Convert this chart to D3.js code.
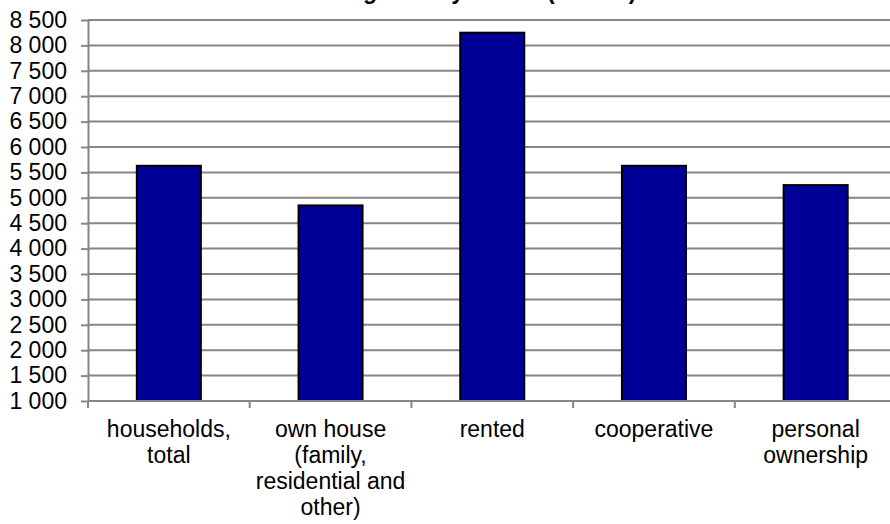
<!DOCTYPE html>
<html>
<head>
<meta charset="utf-8">
<script src="https://cdn.jsdelivr.net/npm/d3@7"></script>
<style>
  html, body { margin: 0; padding: 0; background: #fff; }
  svg { display: block; font-family: "Liberation Sans", Arial, sans-serif; }
</style>
</head>
<body>
<svg id="chart" width="890" height="524"></svg>
<script>
// ---- data ----
const categories = [
  ["households,", "total"],
  ["own house", "(family,", "residential and", "other)"],
  ["rented"],
  ["cooperative"],
  ["personal", "ownership"]
];
const values = [5630, 4850, 8250, 5630, 5250];
const yTicks = [1000, 1500, 2000, 2500, 3000, 3500, 4000, 4500, 5000, 5500, 6000, 6500, 7000, 7500, 8000, 8500];
const title = "Housing cost by tenure (in CZK)";

// ---- layout ----
const W = 890, H = 524;
const plotLeft = 88, plotRight = 896.5, plotTop = 20, plotBottom = 401;
const gridColor = "#868686";

const svg = d3.select("#chart");
const idx = categories.map((d, i) => i);

const x = d3.scaleBand().domain(idx).range([plotLeft, plotRight])
  .paddingInner(0.604).paddingOuter(0.302);
const y = d3.scaleLinear().domain([1000, 8500]).range([plotBottom, plotTop]);

const loc = d3.formatLocale({decimal: ".", thousands: " ", grouping: [3], currency: ["", ""]});
const fmt = loc.format(",");

// gridlines
svg.append("g").selectAll("line").data(yTicks.slice(1)).join("line")
  .attr("x1", plotLeft).attr("x2", W)
  .attr("y1", d => y(d)).attr("y2", d => y(d))
  .attr("stroke", gridColor).attr("stroke-width", 2);

// y axis
const yAxis = svg.append("g").attr("transform", `translate(${plotLeft},0)`)
  .call(d3.axisLeft(y).tickValues(yTicks).tickFormat(fmt).tickSize(7).tickPadding(14).tickSizeOuter(0));
yAxis.select(".domain").attr("stroke", gridColor).attr("stroke-width", 2);
yAxis.selectAll(".tick line").attr("stroke", gridColor).attr("stroke-width", 2);
yAxis.selectAll(".tick text").attr("font-size", 23).attr("fill", "#000")
  .attr("font-family", "'Liberation Sans', Arial, sans-serif");

// bars
svg.append("g").selectAll("rect").data(values).join("rect")
  .attr("x", (d, i) => x(i))
  .attr("width", x.bandwidth())
  .attr("y", d => y(d))
  .attr("height", d => y(1000) - y(d))
  .attr("fill", "#000099")
  .attr("stroke", "#000").attr("stroke-width", 2);

// x axis line
svg.append("line").attr("x1", plotLeft).attr("x2", W).attr("y1", plotBottom).attr("y2", plotBottom)
  .attr("stroke", gridColor).attr("stroke-width", 2);
// category boundary ticks
const bounds = d3.range(categories.length + 1).map(i => x.range()[0] + i * x.step());
svg.append("g").selectAll("line").data(bounds).join("line")
  .attr("x1", d => d).attr("x2", d => d)
  .attr("y1", plotBottom).attr("y2", plotBottom + 7)
  .attr("stroke", gridColor).attr("stroke-width", 2);

// category labels
const lab = svg.append("g").selectAll("text").data(categories).join("text")
  .attr("text-anchor", "middle").attr("font-size", 23).attr("fill", "#000")
  .attr("transform", (d, i) => `translate(${x(i) + x.bandwidth() / 2},${plotBottom + 36})`);
lab.selectAll("tspan").data(d => d).join("tspan")
  .attr("x", 0).attr("y", (d, j) => j * 26).text(d => d);

// title (clipped at the top edge, as in the reference)
const t = svg.append("text").attr("font-size", 23).attr("font-weight", "bold")
  .attr("fill", "#000").attr("y", -1).text(title);
const gi = title.indexOf("g");
const off = t.node().getSubStringLength(0, gi);
t.attr("x", 363 - off);
</script>
</body>
</html>
